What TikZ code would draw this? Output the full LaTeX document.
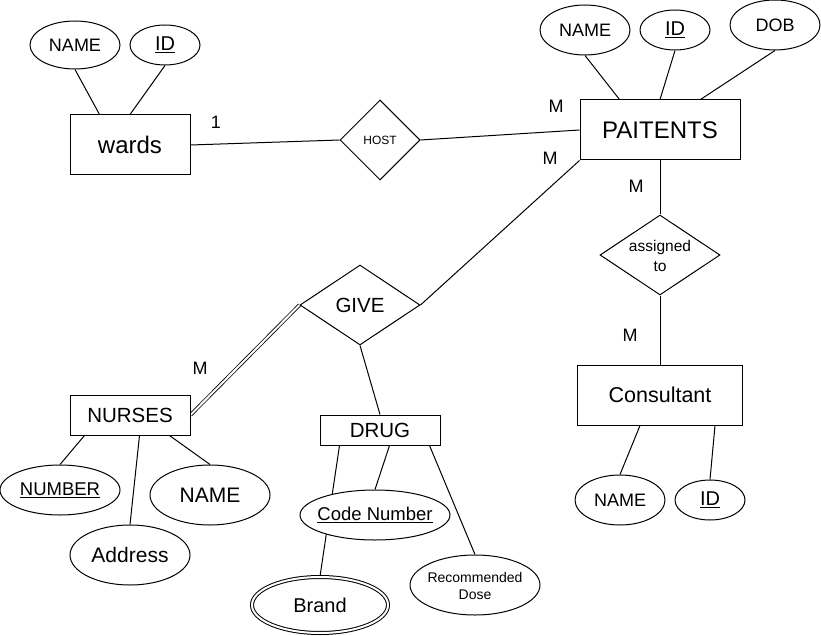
\documentclass[tikz,border=0pt]{standalone}
\usepackage{fontspec}
\setmainfont{Liberation Sans}
\usetikzlibrary{shapes.geometric}
\pgfdeclarelayer{background}
\pgfsetlayers{background,main}
\newcommand\fpx[1]{\fontsize{#1pt}{#1pt}\selectfont}
\begin{document}
\begin{tikzpicture}[x=1pt,y=-1pt,line width=1pt,
  ent/.style={draw,rectangle,inner sep=0pt,fill=white},
  attr/.style={draw,ellipse,inner sep=0pt,fill=white},
  rel/.style={draw,diamond,inner sep=0pt,fill=white},
  card/.style={inner sep=0pt,font=\fpx{18}},
  txt/.style={inner sep=0pt},
  conn/.style={draw,line width=1pt},
  dconn/.style={draw,double,double distance=2pt,line width=0.8pt}]
\useasboundingbox (0,0) rectangle (821,636);

% wards
\node[ent,minimum width=120pt,minimum height=60pt,font=\fpx{24}] (wards) at (130,145) {wards};
\node[attr,minimum width=90pt,minimum height=48pt,font=\fpx{18}] (wname) at (75,45) {NAME};
\node[attr,minimum width=70pt,minimum height=40pt,font=\fpx{20}] (wid) at (165,45) {\underline{ID}};

% HOST
\node[rel,minimum width=80pt,minimum height=80pt,font=\fpx{12}] (host) at (380,140) {HOST};

% PAITENTS
\node[ent,minimum width=160pt,minimum height=60pt,font=\fpx{24}] (pat) at (660,130) {PAITENTS};
\node[attr,minimum width=90pt,minimum height=50pt,font=\fpx{18}] (pname) at (585,30) {NAME};
\node[attr,minimum width=70pt,minimum height=40pt,font=\fpx{20}] (pid) at (675,30) {\underline{ID}};
\node[attr,minimum width=90pt,minimum height=50pt,font=\fpx{18}] (dob) at (775,25) {DOB};

% assigned to
\node[rel,minimum width=120pt,minimum height=80pt] (assign) at (660,255) {};
\node[txt,font=\fontsize{15.5pt}{20pt}\selectfont,align=center] (assigntxt) at (660,256) {assigned\\to};

% Consultant
\node[ent,minimum width=165pt,minimum height=60pt,font=\fpx{21.5}] (cons) at (660,395) {Consultant};
\node[attr,minimum width=90pt,minimum height=50pt,font=\fpx{18}] (cname) at (620,500) {NAME};
\node[attr,minimum width=70pt,minimum height=40pt,font=\fpx{20}] (cid) at (710,500) {\underline{ID}};

% GIVE
\node[rel,minimum width=120pt,minimum height=80pt,font=\fpx{20.5}] (give) at (360,305) {GIVE};

% NURSES
\node[ent,minimum width=120pt,minimum height=40pt,font=\fpx{20.5}] (nurses) at (130,415) {NURSES};
\node[attr,minimum width=120pt,minimum height=50pt,font=\fpx{18.5}] (number) at (60,490) {\underline{NUMBER}};
\node[attr,minimum width=120pt,minimum height=60pt,font=\fpx{21}] (address) at (130,555) {Address};
\node[attr,minimum width=120pt,minimum height=60pt,font=\fpx{21}] (nname) at (210,495) {NAME};

% DRUG
\node[ent,minimum width=120pt,minimum height=30pt,font=\fpx{20.5}] (drug) at (380,430) {DRUG};
\node[attr,minimum width=150pt,minimum height=50pt] (code) at (375,515) {};
\node[txt,font=\fpx{18.5}] (codetxt) at (375,515) {\underline{Code Number}};
\node[attr,double,double distance=2pt,minimum width=136pt,minimum height=56pt,font=\fpx{20}] (brand) at (320,605) {Brand};
\node[attr,minimum width=130pt,minimum height=60pt] (dose) at (475,585) {};
\node[txt,font=\fontsize{14pt}{17pt}\selectfont,align=center] (dosetxt) at (475,586) {Recommended\\Dose};

% cardinalities
\node[card] (c1) at (216,122) {1};
\node[card] (m1) at (556,106) {M};
\node[card] (m2) at (550,158) {M};
\node[card] (m3) at (636,186) {M};
\node[card] (m4) at (630,335) {M};
\node[card] (m5) at (200,368) {M};

\begin{pgfonlayer}{background}
\draw[conn] (wname.south) -- ([xshift=30pt]wards.north west);
\draw[conn] (wid.south) -- (wards.north);
\draw[conn] (wards.east) -- (host.west);
\draw[conn] (host.east) -- (pat.west);
\draw[conn] (pname.south) -- ([xshift=40pt]pat.north west);
\draw[conn] (pid.south) -- (pat.north);
\draw[conn] (dob.south) -- ([xshift=-40pt]pat.north east);
\draw[conn] (pat.south) -- (assign.north);
\draw[conn] (assign.south) -- (cons.north);
\draw[conn] ([xshift=-20pt]cons.south) -- (cname.north);
\draw[conn] ([xshift=55pt]cons.south) -- (cid.north);
\draw[conn] (give.east) -- (pat.south west);
\draw[dconn] (give.west) -- (nurses.east);
\draw[conn] (give.south) -- (drug.north);
\draw[conn] ([xshift=15pt]nurses.south west) -- (number.north);
\draw[conn] ([xshift=70pt]nurses.south west) -- (address.north);
\draw[conn] ([xshift=100pt]nurses.south west) -- (nname.north);
\draw[conn] ([xshift=20pt]drug.south west) -- (brand.north);
\draw[conn] ([xshift=70pt]drug.south west) -- (code.north);
\draw[conn] ([xshift=110pt]drug.south west) -- (dose.north);
\end{pgfonlayer}
\end{tikzpicture}
\end{document}
